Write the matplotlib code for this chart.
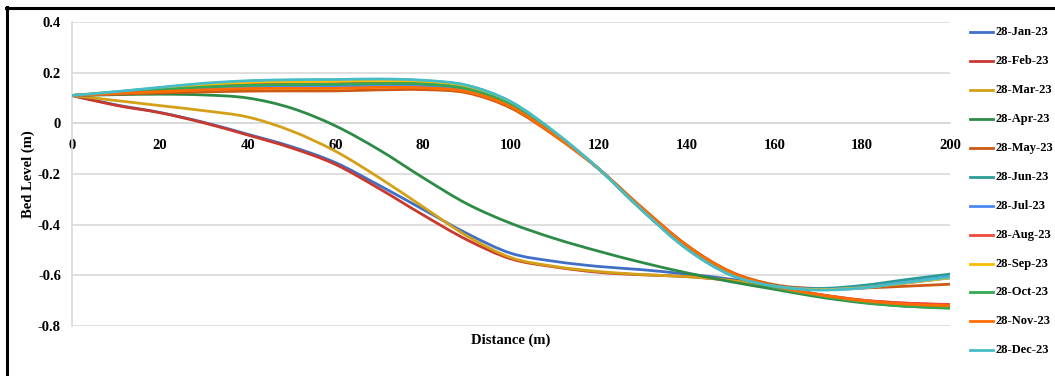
import numpy as np
import matplotlib
matplotlib.use("Agg")
import matplotlib.pyplot as plt
from matplotlib.path import Path
from matplotlib.patches import PathPatch
from matplotlib.lines import Line2D

plt.rcParams["font.family"] = ["Liberation Serif", "DejaVu Serif"]
plt.rcParams["font.weight"] = "bold"

# Survey chainage along the cross-section (m)
distance = [0, 10, 20, 30, 40, 50, 60, 70, 80, 90, 100,
            110, 120, 130, 140, 150, 160, 170, 180, 190, 200]

labels = ["28-Jan-23", "28-Feb-23", "28-Mar-23", "28-Apr-23", "28-May-23", "28-Jun-23",
          "28-Jul-23", "28-Aug-23", "28-Sep-23", "28-Oct-23", "28-Nov-23", "28-Dec-23"]

colors = ["#3F70C6", "#C8392E", "#D4A017", "#2E8B47", "#CC5A14", "#2A9D96",
          "#4A8AF4", "#EE4B3B", "#FBBC04", "#34A853", "#FF6D01", "#46BDC6"]

# Bed level (m) for each survey
jan = [0.11, 0.073, 0.043, 0.004, -0.043, -0.092, -0.155, -0.245, -0.34, -0.435, -0.513,
       -0.545, -0.565, -0.578, -0.595, -0.615, -0.643, -0.655, -0.65, -0.63, -0.61]
feb = [0.11, 0.071, 0.042, 0.002, -0.046, -0.097, -0.162, -0.258, -0.362, -0.46, -0.535,
       -0.567, -0.588, -0.598, -0.605, -0.62, -0.645, -0.675, -0.698, -0.71, -0.716]
mar = [0.11, 0.09, 0.07, 0.05, 0.025, -0.03, -0.11, -0.215, -0.33, -0.445, -0.53,
       -0.565, -0.585, -0.597, -0.605, -0.62, -0.646, -0.677, -0.70, -0.714, -0.72]
apr = [0.11, 0.113, 0.115, 0.112, 0.1, 0.06, -0.01, -0.105, -0.215, -0.318, -0.395,
       -0.455, -0.505, -0.55, -0.59, -0.625, -0.655, -0.685, -0.708, -0.722, -0.728]
may = [0.11, 0.115, 0.12, 0.124, 0.127, 0.128, 0.128, 0.132, 0.133, 0.12, 0.06,
       -0.05, -0.18, -0.335, -0.48, -0.585, -0.637, -0.652, -0.65, -0.643, -0.635]
jun = [0.11, 0.124, 0.14, 0.155, 0.166, 0.17, 0.171, 0.173, 0.168, 0.149, 0.084,
       -0.036, -0.18, -0.345, -0.495, -0.598, -0.642, -0.652, -0.64, -0.617, -0.595]
jul = [0.11, 0.118, 0.128, 0.137, 0.143, 0.146, 0.147, 0.15, 0.148, 0.13, 0.07,
       -0.045, -0.18, -0.342, -0.49, -0.595, -0.642, -0.655, -0.648, -0.627, -0.605]
aug = [0.11, 0.12, 0.133, 0.145, 0.153, 0.156, 0.157, 0.16, 0.157, 0.138, 0.075,
       -0.043, -0.18, -0.343, -0.49, -0.592, -0.645, -0.675, -0.698, -0.71, -0.715]
sep = [0.11, 0.123, 0.138, 0.152, 0.162, 0.165, 0.166, 0.168, 0.164, 0.145, 0.08,
       -0.04, -0.18, -0.344, -0.493, -0.596, -0.643, -0.656, -0.649, -0.63, -0.61]
oct_ = [0.11, 0.12, 0.132, 0.143, 0.15, 0.153, 0.154, 0.157, 0.155, 0.136, 0.073,
        -0.045, -0.18, -0.345, -0.49, -0.593, -0.648, -0.68, -0.706, -0.722, -0.73]
nov = [0.11, 0.118, 0.125, 0.132, 0.137, 0.138, 0.138, 0.142, 0.14, 0.125, 0.065,
       -0.048, -0.18, -0.338, -0.483, -0.588, -0.643, -0.676, -0.70, -0.714, -0.72]
dec = [0.11, 0.125, 0.142, 0.158, 0.168, 0.172, 0.173, 0.175, 0.17, 0.15, 0.085,
       -0.035, -0.18, -0.345, -0.495, -0.598, -0.643, -0.658, -0.65, -0.628, -0.607]

series = [jan, feb, mar, apr, may, jun, jul, aug, sep, oct_, nov, dec]

yticks = [0.4, 0.2, 0.0, -0.2, -0.4, -0.6, -0.8]
ytick_labels = ["0.4", "0.2", "0", "-0.2", "-0.4", "-0.6", "-0.8"]
xticks = [0, 20, 40, 60, 80, 100, 120, 140, 160, 180, 200]

W, H = 1055, 376
fig = plt.figure(figsize=(W / 100, H / 100), dpi=100)
fig.patch.set_facecolor("white")


def fx(px):
    return px / W


def fy(py):
    return 1 - py / H


ax = fig.add_axes([fx(72), fy(326), fx(950) - fx(72), fy(22) - fy(326)])


def smooth_path(xs, ys):
    """Smoothed line through the points (cubic Bezier segments)."""
    pts = np.column_stack([xs, ys]).astype(float)
    n = len(pts)
    verts = [pts[0]]
    codes = [Path.MOVETO]
    for i in range(n - 1):
        p0 = pts[i - 1] if i > 0 else pts[i]
        p1 = pts[i]
        p2 = pts[i + 1]
        p3 = pts[i + 2] if i + 2 < n else pts[i + 1]
        c1 = p1 + (p2 - p0) / 6.0
        c2 = p2 - (p3 - p1) / 6.0
        verts += [c1, c2, p2]
        codes += [Path.CURVE4] * 3
    return Path(verts, codes)


for vals, col in zip(series, colors):
    patch = PathPatch(smooth_path(distance, vals), fill=False, edgecolor=col,
                      lw=2.0, capstyle="round", joinstyle="round", zorder=3)
    ax.add_patch(patch)

ax.set_xlim(0, 200)
ax.set_ylim(-0.8, 0.4)
ax.set_yticks(yticks)
ax.set_yticklabels(ytick_labels)
ax.set_xticks(xticks)
ax.set_xticklabels([str(v) for v in xticks])
ax.grid(axis="y", color="#D9D9D9", lw=1.2, zorder=0)
ax.grid(axis="x", visible=False)
ax.set_axisbelow(True)

for s in ["top", "right"]:
    ax.spines[s].set_visible(False)
ax.spines["left"].set_color("#D9D9D9")
ax.spines["left"].set_linewidth(1.2)
ax.spines["bottom"].set_position(("data", 0))
ax.spines["bottom"].set_color("#D9D9D9")
ax.spines["bottom"].set_linewidth(1.2)

ax.tick_params(axis="y", length=0, pad=8, labelsize=10.5)
ax.tick_params(axis="x", length=0, pad=11, labelsize=10.5)
for t in ax.get_xticklabels() + ax.get_yticklabels():
    t.set_fontweight("bold")

fig.text(fx(511), fy(340), "Distance (m)", ha="center", va="center",
         fontsize=10.5, fontweight="bold")
fig.text(fx(28), fy(174), "Bed Level (m)", ha="center", va="center",
         rotation=90, fontsize=10.5, fontweight="bold")

# Legend down the right-hand side
for i, (lab, col) in enumerate(zip(labels, colors)):
    yy = fy(32.3 + i * 28.9)
    fig.add_artist(Line2D([fx(970), fx(993)], [yy, yy], color=col, lw=2.0,
                          transform=fig.transFigure))
    fig.text(fx(995), yy, lab, ha="left", va="center", fontsize=9,
             fontweight="bold")

# Outer frame of the chart area
fig.add_artist(Line2D([fx(6.5), fx(6.5)], [fy(6.5), fy(H + 5)], color="black",
                      lw=2.2, transform=fig.transFigure))
fig.add_artist(Line2D([fx(5.5), fx(W + 5)], [fy(7.5), fy(7.5)], color="black",
                      lw=2.2, transform=fig.transFigure))

fig.savefig("out.png", dpi=100)
